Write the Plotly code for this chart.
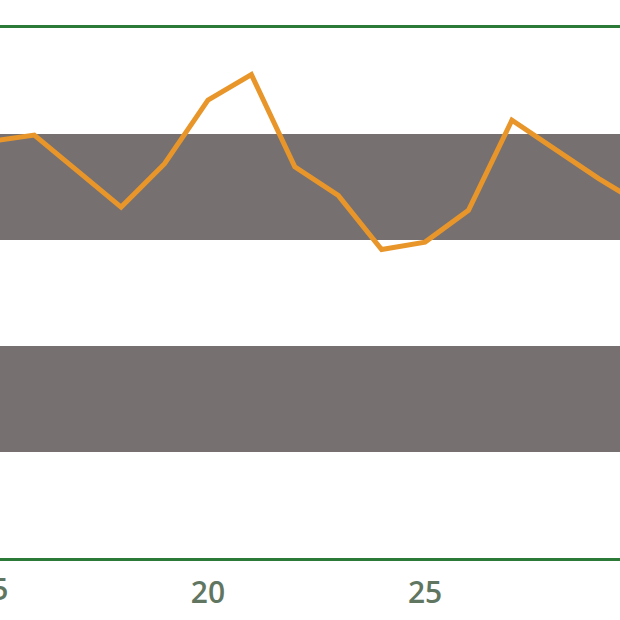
import plotly.graph_objects as go

# Data
x_vals = [15, 16, 17, 18, 19, 20, 21, 22, 23, 24, 25, 26, 27, 28, 29, 30]
y_vals = [39.3, 39.9, 36.5, 33.1, 37.2, 43.2, 45.6, 36.9, 34.2, 29.1, 29.8, 32.8, 41.3, 38.5, 35.8, 33.3]
band_ranges = [(10, 20), (30, 40)]
tick_vals = [20, 25]
tick_text = ["20", "25"]
edge_tick_val = 15
edge_tick_text = "15"

x_range = [15.21, 29.49]
y_range = [0, 50]

GREEN = "#2b7a38"
ORANGE = "#e8962a"
BAND = "#767071"
TICKFONT = dict(family="Open Sans, DejaVu Sans, sans-serif", size=30, color="#617661", weight=600)

fig = go.Figure()
fig.add_trace(go.Scatter(x=x_vals, y=y_vals, mode="lines",
                         line=dict(color=ORANGE, width=5), hoverinfo="skip"))

for y0, y1 in band_ranges:
    fig.add_shape(type="rect", xref="paper", yref="y", x0=0, x1=1, y0=y0, y1=y1,
                  fillcolor=BAND, line=dict(width=0), layer="below")

# partially visible tick label at the left edge
fig.add_annotation(xref="paper", yref="paper",
                   x=(edge_tick_val - x_range[0]) / (x_range[1] - x_range[0]),
                   y=0, yshift=-30, text=edge_tick_text, showarrow=False,
                   font=TICKFONT, xanchor="center", yanchor="middle")

fig.update_layout(
    width=620, height=620,
    margin=dict(l=0, r=0, t=28, b=62),
    paper_bgcolor="white", plot_bgcolor="white",
    showlegend=False,
    xaxis=dict(range=x_range, tickvals=tick_vals, ticktext=tick_text,
               showgrid=False, zeroline=False,
               showline=True, mirror=True, linecolor=GREEN, linewidth=3,
               ticks="outside", ticklen=6, tickcolor="rgba(0,0,0,0)",
               tickfont=TICKFONT),
    yaxis=dict(range=y_range, showgrid=False, zeroline=False,
               showticklabels=False, showline=False),
)

fig.write_html("out.html", config={"displayModeBar": False},
               post_script="document.body.style.margin='0';")
